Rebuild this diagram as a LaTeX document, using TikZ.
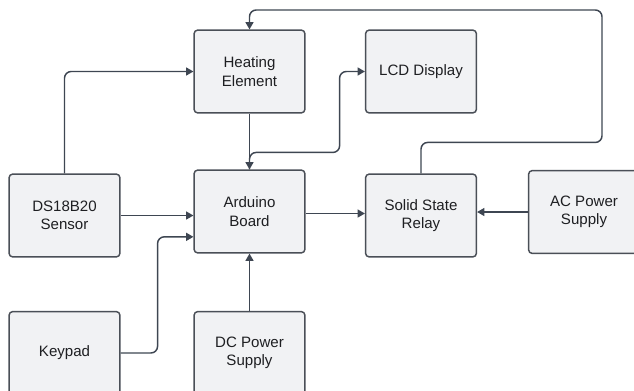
\documentclass[tikz,border=0pt]{standalone}
\usepackage{fontspec}
\setmainfont{Liberation Sans}
\usetikzlibrary{arrows.meta, positioning, calc}
\definecolor{bfill}{HTML}{F1F2F4}
\definecolor{bdraw}{HTML}{4A4F57}
\definecolor{lline}{HTML}{3E4652}
\definecolor{btext}{HTML}{1E1F22}

\tikzset{
  block/.style={draw=bdraw, fill=bfill, line width=1.1pt, rounded corners=2.5pt,
    minimum width=83pt, minimum height=62pt, align=center, text=btext,
    font=\fontsize{11.3}{13.8}\selectfont},
  link/.style={draw=lline, line width=1.1pt, rounded corners=5pt,
    -{Triangle[length=5.5pt, width=6pt]}}
}

\begin{document}
\begin{tikzpicture}[x=0.75pt, y=-0.75pt]

  \useasboundingbox (0,0) rectangle (634,390);
  \clip (0,0) rectangle (634,390);

  %% blocks (centres in pixels of the 634x390 frame)
  \node[block] (heat) at (249.5,71.5) {Heating\\Element};
  \node[block] (lcd)  at (421,71.5)   {LCD Display};
  \node[block] (ds)   at (64.5,215.5) {DS18B20\\Sensor};
  \node[block] (ard)  at (249.5,211.5) {Arduino\\Board};
  \node[block] (ssr)  at (421,215.5)  {Solid State\\Relay};
  \node[block] (ac)   at (584,212)    {AC Power\\Supply};
  \node[block] (kp)   at (64.5,353)   {Keypad};
  \node[block] (dc)   at (249.5,353)  {DC Power\\Supply};

  \coordinate (loop) at (602,10);

  %% connectors
  \draw[link] (ds.north) |- (heat.west);
  \draw[link] (heat.south) -- (ard.north);
  \draw[link] (ard.north) -- ++(0,-17) -| ([xshift=-19pt]lcd.west) -- (lcd.west);
  \draw[link] (ssr.north) -- ++(0,-31) -| (loop) -| (heat.north);
  \draw[link] (ds.east) -- (ds.east -| ard.west);
  \draw[link] (kp.east) -- ++(37,0) |- ([yshift=-19pt]ard.west);
  \draw[link] (dc.north) -- (ard.south);
  \draw[link] ([yshift=-1.5pt]ard.east) -- ([yshift=-1.5pt]ard.east -| ssr.west);
  \draw[link] (ac.west) -- (ac.west -| ssr.east);

\end{tikzpicture}
\end{document}
